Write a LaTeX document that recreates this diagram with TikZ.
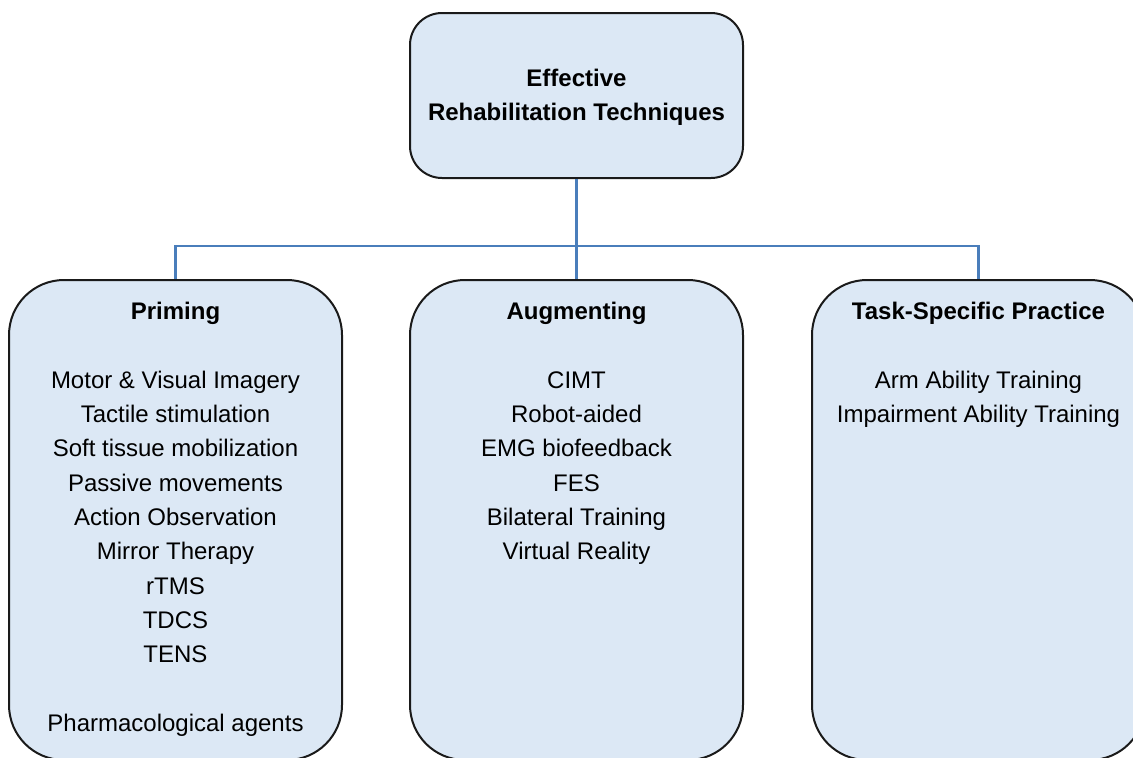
\documentclass[tikz,border=0pt]{standalone}
\usepackage{fontspec}
\setmainfont{Liberation Sans}
\definecolor{boxfill}{HTML}{DCE8F5}
\definecolor{boxline}{HTML}{1A1A1A}
\definecolor{linkblue}{HTML}{4A7EBB}
\begin{document}
\begin{tikzpicture}[x=1pt,y=-1pt,
  panel/.style={draw=boxline, fill=boxfill, line width=2pt, rectangle, inner sep=0pt},
  rootbox/.style={panel, minimum width=333pt, minimum height=165pt, rounded corners=32pt},
  branchbox/.style={panel, minimum width=333pt, minimum height=480pt, rounded corners=55pt},
  label/.style={align=center, inner sep=0pt, font=\fontsize{24}{34.3}\selectfont},
  link/.style={draw=linkblue, line width=2.5pt}]
\useasboundingbox (0,0) rectangle (1133,758);

% root of the tree
\node[rootbox] (root) at (576.5,95.5) {};
\node[label, font=\fontsize{24}{34.3}\selectfont\bfseries] (roottext) at ([yshift=-2pt]root.center)
  {Effective\\Rehabilitation Techniques};

% three branches
\node[branchbox] (prim) at (175.5,520) {};
\node[branchbox] (aug)  at (576.5,520) {};
\node[branchbox] (task) at (978.5,520) {};

\node[label, anchor=north] (primtext) at ([yshift=-23pt]prim.north)
  {\textbf{Priming}\\ \\Motor \& Visual Imagery\\Tactile stimulation\\Soft tissue mobilization\\
   Passive movements\\Action Observation\\Mirror Therapy\\rTMS\\TDCS\\TENS\\ \\Pharmacological agents};
\node[label, anchor=north] (augtext) at ([yshift=-23pt]aug.north)
  {\textbf{Augmenting}\\ \\CIMT\\Robot-aided\\EMG biofeedback\\FES\\Bilateral Training\\Virtual Reality};
\node[label, anchor=north] (tasktext) at ([yshift=-23pt]task.north)
  {\textbf{Task-Specific Practice}\\ \\Arm Ability Training\\Impairment Ability Training};

% connectors
\coordinate (bus) at (576.5,246);
\draw[link] (root.south) -- (bus);
\draw[link] (bus) -| (prim.north);
\draw[link] (bus) -- (aug.north);
\draw[link] (bus) -| (task.north);
\end{tikzpicture}
\end{document}
